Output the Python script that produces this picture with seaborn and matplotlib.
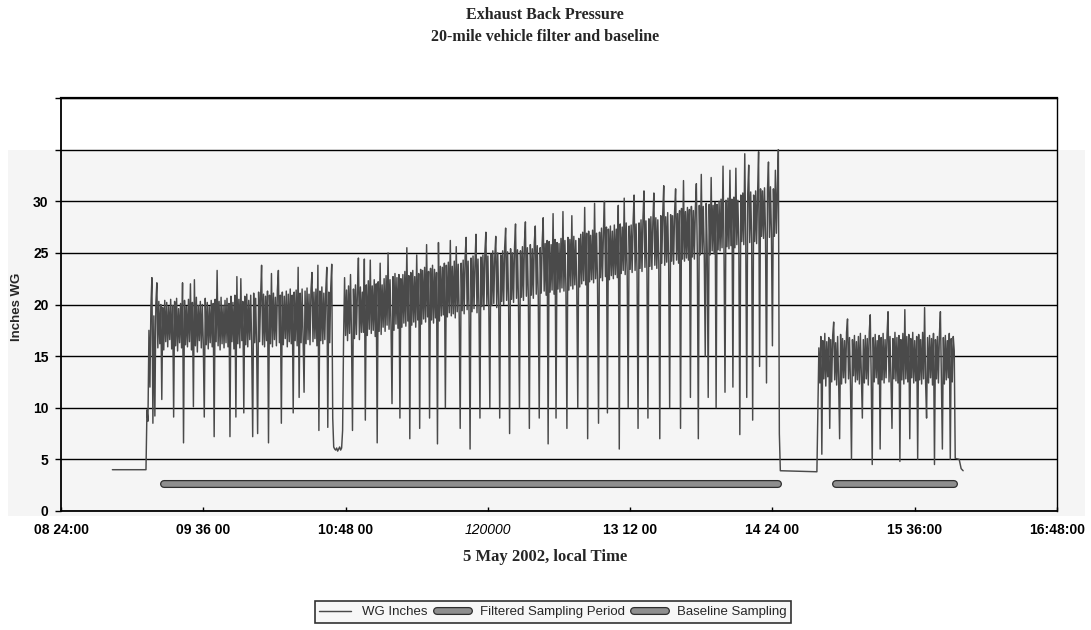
import numpy as np
import pandas as pd
import matplotlib
matplotlib.use("Agg")
import matplotlib.pyplot as plt
import matplotlib.patheffects as pe
from matplotlib.patches import Rectangle
import seaborn as sns

DAY = "2002-05-05 "

# ---------------- text ----------------
title_line1 = "Exhaust Back Pressure"
title_line2 = "20-mile vehicle filter and baseline"
x_label = "5 May 2002, local Time"
y_label = "Inches WG"
x_tick_times = ["08:24", "09:36", "10:48", "12:00", "13:12", "14:24", "15:36", "16:48"]
x_tick_labels = ["08 24:00", "09 36 00", "10:48 00", "120000", "13 12 00", "14 24 00", "15 36:00", "16:48:00"]
y_ticks = [0, 5, 10, 15, 20, 25, 30, 35, 40]
y_tick_labels = ["0", "5", "10", "15", "20", "25", "30", "", ""]

# ---------------- WG Inches series ----------------
wg_idle1_times = ["08:50:00", "09:07:00"]
wg_idle1_values = [4.0, 4.0]

# first run with the 20-mile vehicle filter, sampled every 30 s from 09:07:30
wg_run1_start = "09:07:30"
wg_run1_morning = [
    9.8, 8.7, 17.5, 12.0, 19.8, 22.6, 8.5, 18.9, 9.2, 20.1, 22.1, 15.8, 20.3, 16.2, 20.0, 10.8, 19.7, 15.6, 20.4, 16.4,
    20.2, 15.9, 19.8, 16.6, 20.5, 15.7, 19.9, 9.1, 20.3, 16.0, 20.6, 15.5, 19.6, 16.3, 20.1, 15.8, 22.1, 6.6, 20.4, 16.1,
    19.8, 15.9, 20.5, 16.4, 22.0, 15.6, 20.2, 10.1, 22.4, 16.0, 20.7, 15.4, 19.9, 16.5, 20.3, 15.8, 20.0, 16.2, 9.1, 20.6,
    16.1, 20.2, 15.7, 19.8, 16.3, 20.4, 15.9, 20.1, 7.2, 20.5, 16.4, 23.3, 16.0, 20.3, 15.6, 20.7, 16.2, 19.9, 15.8, 20.4,
    16.3, 20.6, 15.9, 20.1, 7.2, 20.8, 16.4, 20.2, 15.7, 20.9, 9.1, 22.7, 16.2, 20.5, 15.8, 22.5, 16.5, 20.3, 9.5, 20.8,
    16.1, 21.0, 15.9, 20.4, 16.6, 20.9, 16.0, 7.2, 21.1, 16.3, 20.6, 15.8, 7.5, 21.2, 16.4, 20.7, 23.8, 16.1, 21.0, 15.9,
    20.8, 16.5, 21.3, 6.6, 20.9, 16.2, 23.0, 15.9, 21.1, 16.6, 20.7, 16.0, 21.4, 23.3, 16.3, 20.9, 8.5, 21.2, 16.1, 20.8,
    16.7, 21.3, 15.9, 21.0, 16.4, 21.5, 16.2, 20.9, 9.5, 21.2, 16.5, 21.4, 16.0, 23.6, 11.0, 21.1, 16.3, 21.5, 16.8, 11.5,
    21.3, 16.2, 21.6, 16.6, 21.0, 16.1, 21.4, 23.1, 16.4, 21.2, 16.7, 21.5, 16.0, 23.8, 7.8, 21.3, 16.5, 21.7, 16.2, 21.1,
    16.6, 21.4, 23.6, 8.1, 21.2, 16.3, 21.6, 23.9, 9.0,
]
wg_run1_pause = [6.2, 6.0, 5.9, 6.1, 5.8, 6.0, 6.2, 5.9, 6.1, 7.8]
wg_run1_midday = [
    16.8, 22.6, 17.0, 21.4, 16.5, 21.8, 17.2, 22.9, 16.9, 7.8, 21.5, 16.7, 21.9, 17.1, 21.3, 24.5, 16.6, 21.7, 17.3, 21.2,
    17.3, 24.4, 8.8, 21.9, 17.0, 22.3, 17.6, 24.3, 17.2, 21.8, 17.5, 22.4, 16.9, 22.0, 6.6, 22.2, 17.4, 24.0, 17.1, 21.9,
    17.8, 22.5, 17.4, 22.8, 18.0, 25.0, 17.6, 22.4, 17.9, 10.4, 22.7, 17.5, 23.0, 18.1, 22.6, 17.7, 22.9, 9.0, 22.5, 17.8,
    22.9, 18.2, 23.2, 17.9, 25.5, 18.4, 22.8, 7.0, 23.1, 18.0, 23.3, 18.3, 22.7, 17.8, 24.8, 18.5, 23.0, 8.0, 23.4, 18.1,
    23.3, 18.6, 23.6, 18.3, 25.8, 18.8, 23.2, 9.0, 23.5, 18.5, 23.8, 18.2, 23.4, 18.7, 23.1, 6.5, 26.0, 18.4, 23.7, 18.9,
    23.6, 19.0, 24.0, 10.0, 23.8, 18.8, 24.1, 19.2, 26.2, 18.9, 23.7, 19.1, 24.2, 18.7, 25.6, 19.3, 23.9, 18.9, 8.0, 24.0,
    19.4, 24.3, 19.1, 24.6, 26.5, 19.5, 24.2, 19.0, 6.0, 24.5, 19.3, 24.7, 19.6, 24.1, 26.8, 19.2, 24.4, 19.7, 9.0, 24.6,
    19.8, 24.8, 19.5, 25.1, 27.0, 20.0, 24.7, 19.6, 10.0, 24.9, 19.9, 25.2, 20.1, 24.6, 26.6, 19.7, 25.0, 20.2, 9.0, 24.8,
    20.3, 25.2, 20.0, 25.5, 27.4, 20.4, 25.1, 20.1, 7.5, 25.4, 20.5, 25.0, 20.2, 25.6, 27.8, 20.6, 25.3, 20.0, 10.0, 25.2,
    20.7, 25.6, 20.4, 25.9, 28.0, 20.8, 25.5, 20.5, 8.0, 25.8, 20.9, 25.4, 20.6, 26.0, 27.6, 21.0, 25.7, 20.7, 9.0, 25.5,
    21.1, 26.0, 28.4, 21.3, 25.9, 20.9, 26.2, 6.5, 26.1, 21.2, 25.8, 21.4, 28.8, 21.0, 26.3, 9.0, 26.0, 21.5, 25.9, 21.2,
]
wg_run1_afternoon = [
    26.4, 21.6, 29.0, 21.3, 26.2, 21.7, 8.0, 26.5, 21.4, 26.3, 21.8, 28.6, 21.5, 26.6, 21.9, 26.2, 21.6, 10.0, 26.4, 21.7,
    26.8, 22.0, 27.0, 22.3, 29.4, 21.9, 26.9, 7.0, 27.1, 22.2, 26.7, 22.4, 27.2, 22.1, 29.8, 22.5, 26.9, 22.0, 8.5, 27.0,
    22.6, 27.4, 22.3, 27.2, 30.0, 22.7, 27.5, 9.5, 27.3, 22.4, 27.6, 22.8, 27.1, 22.5, 27.7, 22.9, 27.3, 22.6, 29.6, 6.0,
    27.8, 23.0, 27.5, 23.3, 30.3, 22.9, 27.9, 23.2, 10.0, 27.6, 23.4, 27.7, 23.1, 28.0, 30.6, 23.3, 27.8, 23.0, 8.0, 27.9,
    23.5, 28.2, 23.2, 28.4, 31.0, 23.6, 28.1, 23.3, 9.0, 28.3, 23.7, 28.5, 23.4, 28.0, 30.8, 23.8, 28.4, 23.5, 28.2, 23.9,
    7.0, 28.6, 24.0, 28.8, 31.5, 23.8, 28.5, 24.1, 28.9, 23.9, 10.0, 28.7, 24.2, 28.6, 23.9, 29.0, 31.2, 24.3, 28.8, 24.0,
    29.1, 8.0, 29.3, 24.4, 32.0, 24.2, 29.0, 24.5, 29.4, 24.3, 29.2, 11.0, 29.5, 24.6, 29.1, 24.4, 29.3, 31.7, 24.7, 7.0,
    29.6, 24.8, 32.6, 25.0, 29.5, 24.9, 15.0, 29.8, 25.1, 11.0, 29.7, 24.8, 32.3, 25.2, 29.6, 24.9, 29.9, 10.0, 29.7, 25.3,
    30.0, 25.2, 30.2, 25.5, 33.4, 25.3, 11.5, 30.1, 25.6, 30.3, 25.4, 33.0, 25.7, 30.2, 12.0, 30.4, 25.5, 33.2, 25.8, 30.1,
    25.9, 7.4, 30.6, 26.1, 30.8, 25.8, 34.6, 26.2, 11.0, 30.7, 33.5, 26.0, 30.9, 26.3, 8.8, 30.6, 26.1, 31.0, 25.9, 30.8,
    34.8, 14.0, 31.2, 26.6, 31.0, 26.4, 31.3, 26.7, 12.4, 31.1, 33.8, 26.5, 31.4, 26.8, 16.0, 31.2, 26.6, 33.0, 26.9, 31.3,
    35.0, 7.5, 3.9,
]

wg_idle2_times = ["14:46:30"]
wg_idle2_values = [3.8]

# baseline run, sampled every 30 s from 14:47:00
wg_run2_start = "14:47:00"
wg_run2_values = [
    10.0, 15.8, 12.4, 16.9, 5.5, 16.5, 12.8, 17.2, 12.1, 16.4, 13.0, 16.8, 8.0, 16.6, 12.5, 17.0, 18.3, 12.7, 16.3, 12.2,
    16.9, 12.6, 7.0, 17.1, 12.3, 16.7, 12.9, 16.5, 12.4, 17.3, 18.6, 12.8, 16.8, 12.2, 5.0, 16.6, 13.1, 17.0, 12.5, 16.4,
    12.7, 16.9, 12.3, 17.2, 12.9, 9.0, 16.6, 12.4, 17.0, 12.8, 16.7, 12.2, 17.3, 19.0, 12.6, 4.5, 16.8, 12.5, 17.1, 12.9,
    16.5, 12.3, 17.0, 6.0, 16.8, 12.7, 17.2, 12.4, 16.6, 12.9, 17.1, 19.3, 12.5, 16.9, 12.2, 8.0, 16.7, 12.8, 17.3, 12.6,
    16.8, 12.4, 17.0, 4.8, 16.6, 12.7, 17.2, 12.3, 19.5, 12.8, 16.9, 12.5, 17.1, 7.0, 16.7, 12.9, 17.3, 12.4, 16.5, 12.6,
    16.9, 5.0, 17.1, 12.7, 16.6, 12.3, 17.3, 12.8, 19.7, 12.5, 9.0, 16.8, 12.4, 17.0, 12.9, 16.7, 12.2, 17.2, 4.5, 16.6,
    12.8, 16.9, 12.4, 17.1, 19.3, 12.6, 6.0, 16.8, 12.3, 17.0, 12.7, 16.5, 12.9, 17.2, 5.0, 16.7, 12.5, 16.9, 15.5,
]
wg_tail_times = ["15:56:30", "15:58:30", "15:59:30", "16:00:30"]
wg_tail_values = [5.1, 5.0, 4.1, 3.9]

# sampling periods
filtered_times = ["09:16:00", "14:27:00"]
filtered_values = [2.6, 2.6]
baseline_times = ["14:56:00", "15:56:00"]
baseline_values = [2.6, 2.6]

legend_labels = ["WG Inches", "Filtered Sampling Period", "Baseline Sampling"]


def to_dt(times):
    return pd.to_datetime([DAY + t for t in times])


run1_values = wg_run1_morning + wg_run1_pause + wg_run1_midday + wg_run1_afternoon
run1_times = pd.date_range(DAY + wg_run1_start, periods=len(run1_values), freq="30s")
run2_times = pd.date_range(DAY + wg_run2_start, periods=len(wg_run2_values), freq="30s")

wg_df = pd.DataFrame({
    "time": list(to_dt(wg_idle1_times)) + list(run1_times) + list(to_dt(wg_idle2_times))
            + list(run2_times) + list(to_dt(wg_tail_times)),
    "value": wg_idle1_values + run1_values + wg_idle2_values + wg_run2_values + wg_tail_values,
})
filt_df = pd.DataFrame({"time": to_dt(filtered_times), "value": filtered_values})
base_df = pd.DataFrame({"time": to_dt(baseline_times), "value": baseline_values})

# ---------------- style ----------------
sns.set_theme(style="ticks")
plt.rcParams["font.family"] = ["Liberation Sans", "DejaVu Sans"]

W, H = 1091, 630
fig = plt.figure(figsize=(W / 100, H / 100), dpi=100)
fig.patch.set_facecolor("white")
# light grey scanned panel behind the plot
fig.add_artist(Rectangle((8 / W, 1 - 516 / H), 1077 / W, 366 / H, transform=fig.transFigure,
                         facecolor="#f5f5f5", edgecolor="none", zorder=-1))

ax = fig.add_axes([61 / W, 1 - 511 / H, (1057 - 61) / W, (511 - 98) / H])
ax.set_facecolor("#f5f5f5")
ax.axhspan(35, 40, color="white", zorder=0.2)

sns.lineplot(data=wg_df, x="time", y="value", ax=ax, estimator=None, sort=False,
             color="#4a4a4a", linewidth=1.05, label=legend_labels[0])
sns.lineplot(data=filt_df, x="time", y="value", ax=ax, estimator=None, sort=False,
             color="#8e8e8e", linewidth=4.0, solid_capstyle="round", label=legend_labels[1])
ax.lines[-1].set_path_effects([pe.Stroke(linewidth=5.8, foreground="#2e2e2e"), pe.Normal()])
sns.lineplot(data=base_df, x="time", y="value", ax=ax, estimator=None, sort=False,
             color="#8e8e8e", linewidth=4.0, solid_capstyle="round", label=legend_labels[2])
ax.lines[-1].set_path_effects([pe.Stroke(linewidth=5.8, foreground="#2e2e2e"), pe.Normal()])

handles, labels = ax.get_legend_handles_labels()
if ax.get_legend() is not None:
    ax.get_legend().remove()

# axes
ax.set_xlim(pd.Timestamp(DAY + x_tick_times[0]), pd.Timestamp(DAY + x_tick_times[-1]))
ax.set_xticks(list(to_dt(x_tick_times)))
ax.set_xticklabels(x_tick_labels)
ax.set_ylim(y_ticks[0], y_ticks[-1])
ax.set_yticks(y_ticks)
ax.set_yticklabels(y_tick_labels)

ax.set_axisbelow(True)
ax.yaxis.grid(True, color="black", linewidth=1.0)
ax.xaxis.grid(False)

for side, lw in [("top", 1.6), ("left", 1.3), ("bottom", 1.3), ("right", 1.0)]:
    ax.spines[side].set_visible(True)
    ax.spines[side].set_color("black")
    ax.spines[side].set_linewidth(lw)

ax.tick_params(axis="y", direction="out", length=4, width=1, pad=5, labelsize=10, colors="black")
ax.tick_params(axis="x", direction="in", length=3, width=1, pad=9, labelsize=10, colors="black")
for lbl in ax.get_xticklabels() + ax.get_yticklabels():
    lbl.set_fontweight("bold")
ax.get_xticklabels()[3].set_fontweight("normal")
ax.get_xticklabels()[3].set_fontstyle("italic")

ax.set_xlabel(x_label, family="Liberation Serif", fontweight="bold", fontsize=12)
ax.xaxis.set_label_coords((545 - 61) / 996, (511 - 549) / 413)
ax.set_ylabel(y_label, fontweight="bold", fontsize=9.5)
ax.yaxis.set_label_coords((23 - 61) / 996, (511 - 307) / 413)

fig.text(545 / W, 1 - 15 / H, title_line1, ha="center", va="center",
         family="Liberation Serif", fontweight="bold", fontsize=11.5)
fig.text(545 / W, 1 - 37 / H, title_line2, ha="center", va="center",
         family="Liberation Serif", fontweight="bold", fontsize=11.5)

leg = fig.legend(handles, labels, loc="center", bbox_to_anchor=(553 / W, 1 - 612 / H), ncol=3,
                 frameon=True, fancybox=False, edgecolor="black", facecolor="#f5f5f5",
                 fontsize=9.5, handlelength=2.4, handletextpad=0.85, columnspacing=0.7,
                 borderpad=0.35)
leg.get_frame().set_linewidth(1.2)

fig.savefig("out.png", dpi=100)
